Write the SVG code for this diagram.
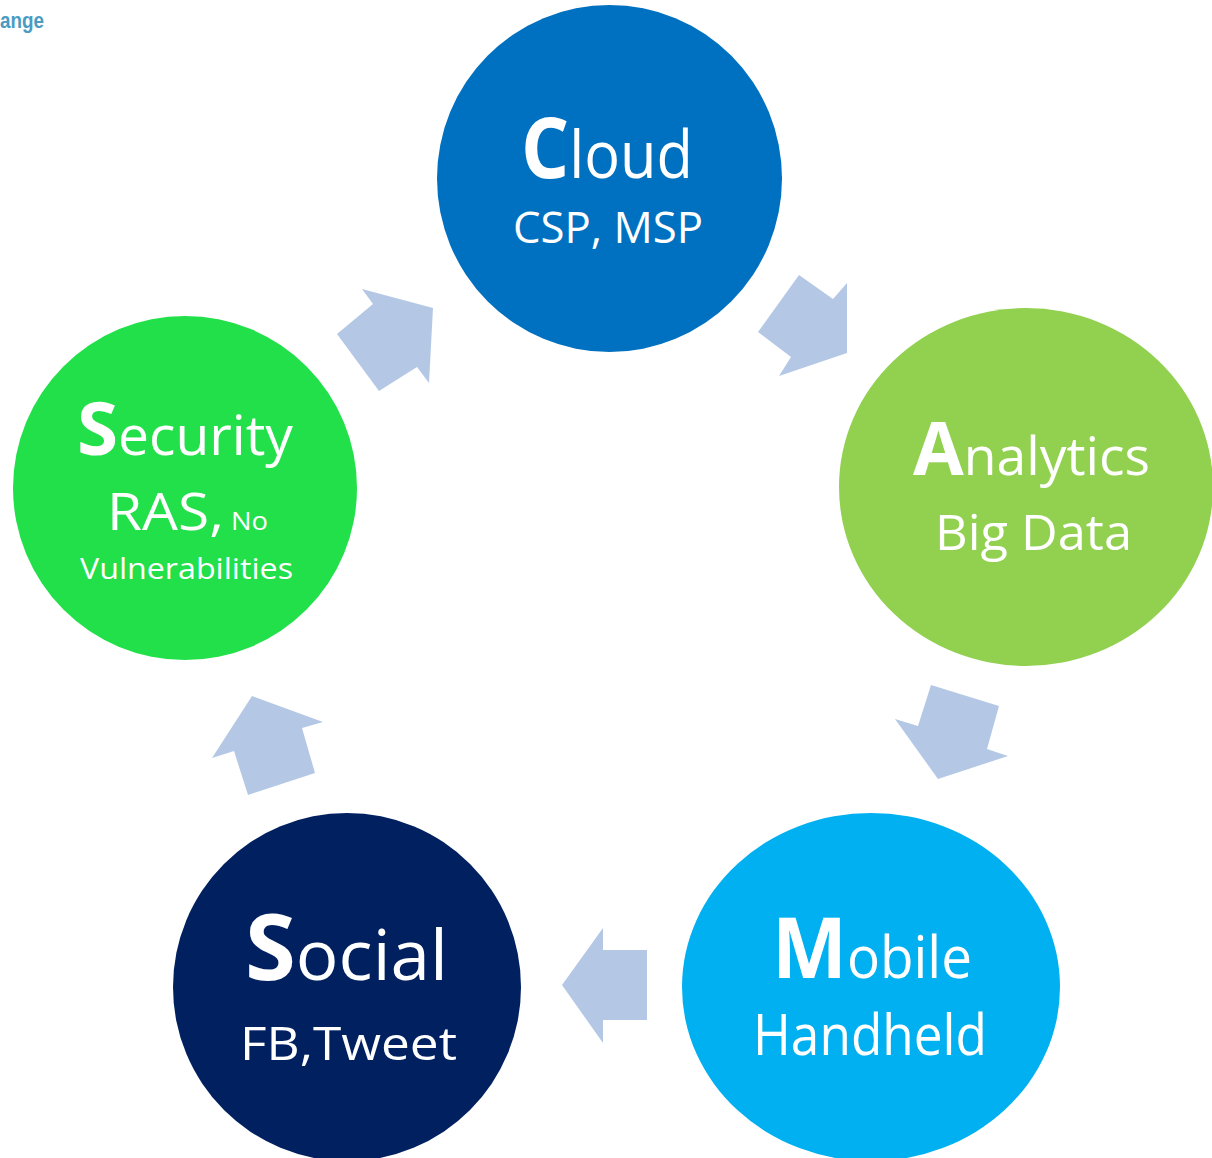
<svg xmlns="http://www.w3.org/2000/svg" width="1212" height="1158" viewBox="0 0 1212 1158">
<style>
  text { font-family: "Open Sans", "Noto Sans", "DejaVu Sans", sans-serif; fill: #ffffff; }
  .big { font-weight: bold; }
  .arrow { fill: #B4C8E6; stroke: none; }
  .hdr { font-family: "Liberation Sans", Arial, sans-serif; font-weight: bold; fill: #4B9BC2; }
</style>
<rect x="0" y="0" width="1212" height="1158" fill="#ffffff"/>
<text class="hdr" x="0" y="28" font-size="22" textLength="44" lengthAdjust="spacingAndGlyphs">ange</text>

<g id="connectors">
  <polygon class="arrow" points="362,289 433,308 429,383 417,367 379,391 337,334 373,304"/>
  <polygon class="arrow" points="799,275 833,299 847,283 847,353 779,376 791,357 758,332"/>
  <polygon class="arrow" points="931,685 999,706 987,749 1008,756 938,779 895,719 918,726"/>
  <polygon class="arrow" points="562,985 603,928 603,950 647,950 647,1020 603,1020 603,1043"/>
  <polygon class="arrow" points="252,696 323,722 302,728 315,773 248,795 234,751 212,758"/>
</g>

<g id="cloud">
  <ellipse cx="609.5" cy="178.5" rx="172.5" ry="173.5" fill="#0070C0"/>
  <text x="521" y="178" textLength="172" lengthAdjust="spacingAndGlyphs"><tspan class="big" font-size="84">C</tspan><tspan font-size="66">loud</tspan></text>
  <text x="513" y="243" font-size="43" textLength="190" lengthAdjust="spacingAndGlyphs">CSP, MSP</text>
</g>

<g id="analytics">
  <ellipse cx="1026" cy="487" rx="187" ry="179" fill="#92D050"/>
  <text x="913" y="475" textLength="237" lengthAdjust="spacingAndGlyphs"><tspan class="big" font-size="73">A</tspan><tspan font-size="53">nalytics</tspan></text>
  <text x="935" y="550" font-size="49" textLength="197" lengthAdjust="spacingAndGlyphs">Big Data</text>
</g>

<g id="mobile">
  <ellipse cx="871" cy="987" rx="189" ry="174" fill="#00B0F0"/>
  <text x="772" y="978" textLength="200" lengthAdjust="spacingAndGlyphs"><tspan class="big" font-size="84">M</tspan><tspan font-size="58">obile</tspan></text>
  <text x="753" y="1055" font-size="56" textLength="234" lengthAdjust="spacingAndGlyphs">Handheld</text>
</g>

<g id="social">
  <ellipse cx="347" cy="987" rx="174" ry="174" fill="#002060"/>
  <text x="245" y="980" textLength="203" lengthAdjust="spacingAndGlyphs"><tspan class="big" font-size="91">S</tspan><tspan font-size="70">ocial</tspan></text>
  <text x="240" y="1060" font-size="46" textLength="217" lengthAdjust="spacingAndGlyphs">FB,Tweet</text>
</g>

<g id="security">
  <ellipse cx="185" cy="488" rx="172" ry="172" fill="#22E04A"/>
  <text x="77" y="455" textLength="216" lengthAdjust="spacingAndGlyphs"><tspan class="big" font-size="73">S</tspan><tspan font-size="54">ecurity</tspan></text>
  <text x="107" y="530" textLength="161" lengthAdjust="spacingAndGlyphs"><tspan font-size="52">RAS,</tspan><tspan font-size="25"> No</tspan></text>
  <text x="80" y="579" font-size="29" textLength="213" lengthAdjust="spacingAndGlyphs">Vulnerabilities</text>
</g>
</svg>
